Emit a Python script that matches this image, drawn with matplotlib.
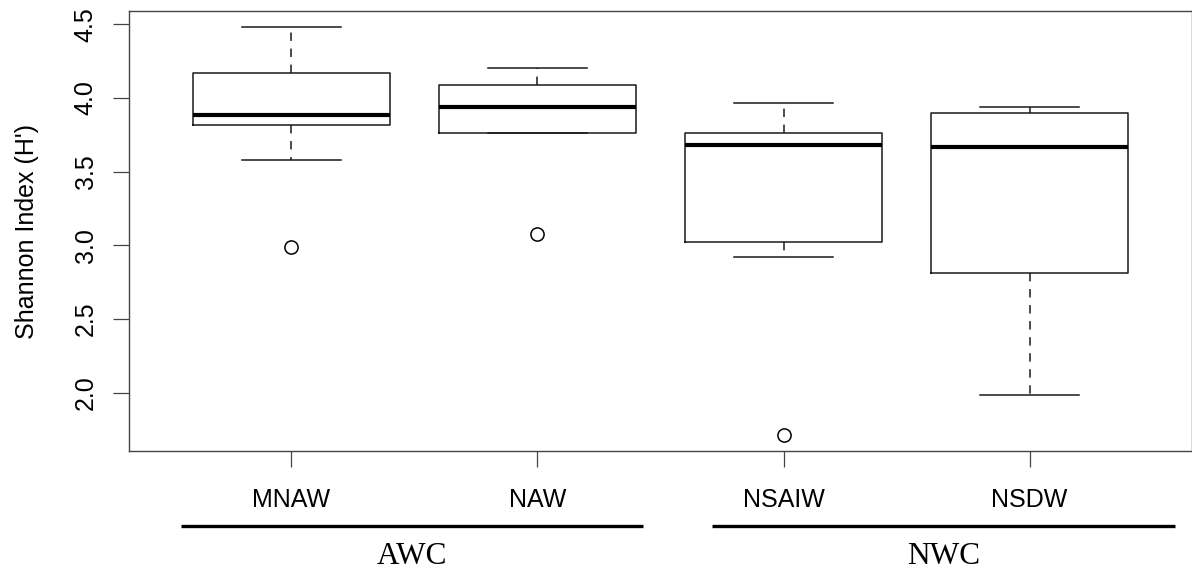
import matplotlib
matplotlib.use("Agg")
import matplotlib.pyplot as plt
from matplotlib.transforms import blended_transform_factory

# Shannon diversity per water mass (five-number summaries + outliers)
water_masses = ["MNAW", "NAW", "NSAIW", "NSDW"]
whisker_low = [3.58, 3.76, 2.92, 1.98]
quartile_1 = [3.815, 3.765, 3.025, 2.81]
medians = [3.885, 3.935, 3.68, 3.665]
quartile_3 = [4.17, 4.09, 3.765, 3.90]
whisker_high = [4.48, 4.20, 3.965, 3.935]
outliers = [[2.99], [3.075], [1.715], []]

# Water-mass groups spanning the x axis
groups = ["AWC", "NWC"]
group_spans = [(0.55, 2.43), (2.71, 4.59)]

y_ticks = [2.0, 2.5, 3.0, 3.5, 4.0, 4.5]
y_tick_labels = ["2.0", "2.5", "3.0", "3.5", "4.0", "4.5"]

W, H = 1192, 571
fig = plt.figure(figsize=(W / 100, H / 100), dpi=100)
ax = fig.add_axes([129 / W, 120 / H, 1063 / W, 440 / H])

stats = []
for name, lo, q1, med, q3, hi, fl in zip(water_masses, whisker_low, quartile_1,
                                         medians, quartile_3, whisker_high, outliers):
    stats.append(dict(label=name, whislo=lo, q1=q1, med=med, q3=q3,
                      whishi=hi, fliers=fl))

edge = "#1a1a1a"
ax.bxp(stats, positions=[1, 2, 3, 4], widths=0.8, capwidths=0.4,
       boxprops=dict(color=edge, linewidth=1.1),
       medianprops=dict(color="black", linewidth=3.0, solid_capstyle="butt"),
       whiskerprops=dict(color=edge, linewidth=1.1, linestyle=(0, (5.5, 5.0))),
       capprops=dict(color=edge, linewidth=1.1),
       flierprops=dict(marker="o", markerfacecolor="none", markeredgecolor="black",
                       markersize=9.5, markeredgewidth=1.1))

ax.set_xlim(0.34, 4.66)
ax.set_ylim(1.603, 4.590)

font_sans = "Liberation Sans"
ax.set_xticks([1, 2, 3, 4])
ax.set_xticklabels(water_masses, fontsize=18, family=font_sans)
ax.set_yticks(y_ticks)
ax.set_yticklabels(y_tick_labels, fontsize=18, family=font_sans)
plt.setp(ax.get_yticklabels(), rotation=90, va="center")

ax.tick_params(axis="x", length=11.5, width=0.9, color="#444444", pad=15)
ax.tick_params(axis="y", length=11.5, width=0.9, color="#444444", pad=11)

for sp in ax.spines.values():
    sp.set_color("#444444")
    sp.set_linewidth(1.0)

ax.set_ylabel("Shannon Index (H')", fontsize=18, family=font_sans)
ax.yaxis.set_label_coords((39 - 129) / 1063, 0.5)

# Group bars and names beneath the water-mass labels
trans = blended_transform_factory(ax.transData, fig.transFigure)
line_y = 1 - 526 / H
text_y = 1 - 564 / H
for name, (x0, x1) in zip(groups, group_spans):
    ax.plot([x0, x1], [line_y, line_y], transform=trans, color="black",
            linewidth=2.4, solid_capstyle="butt", clip_on=False)
    ax.text((x0 + x1) / 2, text_y, name, transform=trans, ha="center",
            va="baseline", fontsize=22.5, family="Liberation Serif")

fig.savefig("out.png", dpi=100)
